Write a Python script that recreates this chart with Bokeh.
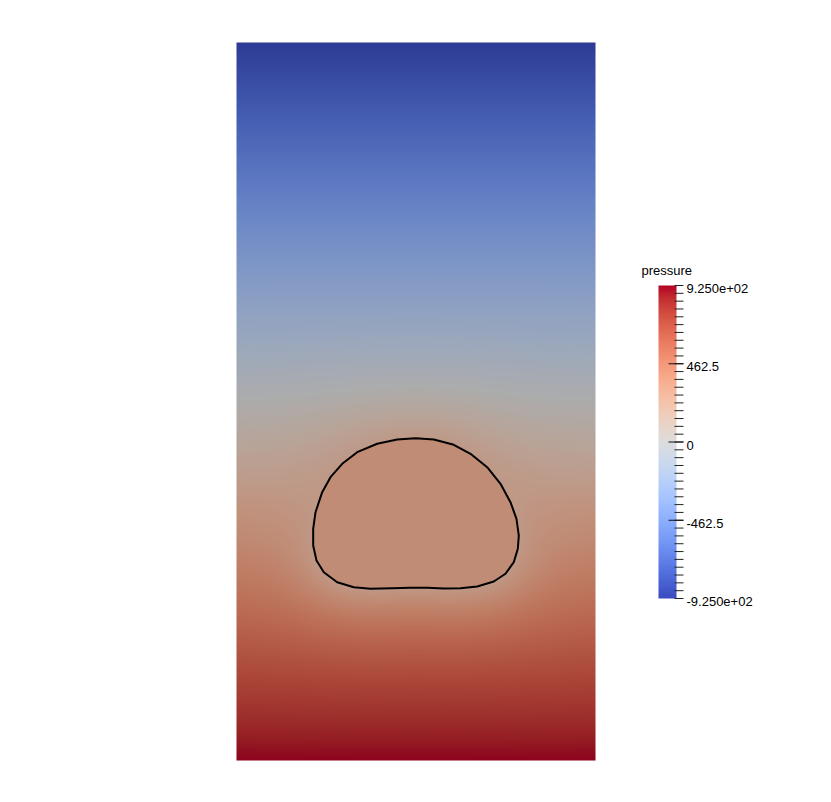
import numpy as np
from bokeh.plotting import figure
from bokeh.models import Range1d
from bokeh.core.properties import value
from bokeh.embed import file_html
from bokeh.resources import INLINE

# ---------------- data ----------------
# hydrostatic-like pressure profile along height (domain is 1 wide, 2 tall)
profile_z = [0.0, 0.25, 0.5, 0.75, 1.0, 1.25, 1.5, 1.75, 2.0]
profile_p = [925, 700, 470, 235, 0, -230, -465, -700, -925]

# pressure inside the bubble and just outside its interface
p_bubble = 330.0
p_edge = 230.0
halo_len = 0.075

# bubble interface contour (domain units)
bubble_x = [0.4986, 0.5496, 0.6053, 0.6518, 0.6983, 0.7354, 0.7632, 0.7799, 0.7864,
            0.7836, 0.7724, 0.7493, 0.7167, 0.6705, 0.6240, 0.5774, 0.5312, 0.4847,
            0.4337, 0.3733, 0.3267, 0.2805, 0.2432, 0.2228, 0.2136, 0.2136, 0.2201,
            0.2387, 0.2618, 0.2944, 0.3362, 0.3919, 0.4476]
bubble_y = [0.8978, 0.8942, 0.8794, 0.8543, 0.8170, 0.7708, 0.7195, 0.6733, 0.6267,
            0.5897, 0.5524, 0.5201, 0.4986, 0.4847, 0.4799, 0.4791, 0.4811, 0.4811,
            0.4799, 0.4783, 0.4827, 0.4967, 0.5245, 0.5571, 0.5989, 0.6454, 0.6916,
            0.7474, 0.7891, 0.8265, 0.8588, 0.8822, 0.8942]

# colour bar
p_min, p_max = -925.0, 925.0
major_ticks = [-925.0, -462.5, 0.0, 462.5, 925.0]
major_labels = ["-9.250e+02", "-462.5", "0", "462.5", "9.250e+02"]
long_ticks = [-462.5, 0.0, 462.5]
cbar_title = "pressure"

# Cool to Warm (Moreland) colour table
cmap_t = np.linspace(0, 1, 33)
cmap_rgb = np.array([
    [59, 76, 192], [68, 90, 204], [77, 104, 215], [87, 117, 225], [98, 130, 234],
    [108, 142, 241], [119, 154, 247], [130, 165, 251], [141, 176, 254], [152, 185, 255],
    [163, 194, 255], [174, 201, 253], [184, 208, 249], [194, 213, 244], [204, 217, 238],
    [213, 219, 230], [221, 221, 221], [229, 216, 209], [236, 211, 197], [241, 204, 185],
    [245, 196, 173], [247, 187, 160], [247, 177, 148], [247, 166, 135], [244, 154, 123],
    [241, 141, 111], [236, 127, 99], [229, 112, 88], [222, 96, 77], [213, 80, 66],
    [203, 62, 56], [192, 40, 47], [180, 4, 38]], dtype=float)
shade = 0.78


def to_rgba(p, factor=1.0):
    t = np.clip((p - p_min) / (p_max - p_min), 0, 1)
    out = np.empty(p.shape, dtype=np.uint32)
    v = out.view(dtype=np.uint8).reshape(p.shape + (4,))
    for c in range(3):
        v[..., c] = np.clip(np.interp(t, cmap_t, cmap_rgb[:, c]) * factor, 0, 255).astype(np.uint8)
    v[..., 3] = 255
    return out


# ---------------- field ----------------
NX, NY = 359, 718
xs = (np.arange(NX) + 0.5) / NX
ys = (np.arange(NY) + 0.5) / NX
X, Y = np.meshgrid(xs, ys)

bx = np.array(bubble_x)
by = np.array(bubble_y)
n = len(bx)
inside = np.zeros(X.shape, dtype=bool)
dmin = np.full(X.shape, np.inf)
j = n - 1
for i in range(n):
    xi, yi, xj, yj = bx[i], by[i], bx[j], by[j]
    cond = ((yi > Y) != (yj > Y)) & (X < (xj - xi) * (Y - yi) / (yj - yi + 1e-12) + xi)
    inside ^= cond
    dx, dy = xj - xi, yj - yi
    L2 = dx * dx + dy * dy
    t = np.clip(((X - xi) * dx + (Y - yi) * dy) / L2, 0, 1)
    d = np.hypot(X - (xi + t * dx), Y - (yi + t * dy))
    dmin = np.minimum(dmin, d)
    j = i

hydro = np.interp(Y, profile_z, profile_p)
field = np.where(inside, p_bubble, hydro + (p_edge - hydro) * np.exp(-dmin / halo_len))
img = to_rgba(field, shade)

# ---------------- figure ----------------
W, H = 815, 786
S = 359.0          # pixels per domain unit
X0, Y0 = 236, 760  # pixel position of domain origin

p = figure(width=W, height=H, output_backend="svg", toolbar_location=None,
           x_axis_type=None, y_axis_type=None, min_border=0,
           x_range=Range1d(-X0 / S, (W - X0) / S),
           y_range=Range1d(-(H - Y0) / S, Y0 / S))
p.outline_line_color = None
p.grid.visible = False
p.background_fill_color = "white"
p.border_fill_color = "white"

# colour bar range: pixel 285 -> p_max, 598 -> p_min
upp = (p_max - p_min) / (598 - 285)
p.extra_y_ranges = {"cb": Range1d(p_min - (H - 598) * upp, p_max + 285 * upp)}

p.image_rgba(image=[img], x=0, y=0, dw=1, dh=2)

p.line(list(bubble_x) + [bubble_x[0]], list(bubble_y) + [bubble_y[0]],
       line_color="black", line_width=2)


def fx(page_x):
    return (page_x - X0) / S


# colour bar image
cb_vals = np.linspace(p_min, p_max, 256).reshape(256, 1)
cb_img = to_rgba(cb_vals)
p.image_rgba(image=[cb_img], x=fx(658), y=p_min, dw=fx(676) - fx(658),
             dh=p_max - p_min, y_range_name="cb")

minor = np.linspace(p_min, p_max, 41)
p.segment(x0=[fx(674)] * len(minor), x1=[fx(683)] * len(minor), y0=minor, y1=minor,
          line_color="#222222", line_width=1, y_range_name="cb")
p.segment(x0=[fx(668)] * len(long_ticks), x1=[fx(683)] * len(long_ticks),
          y0=long_ticks, y1=long_ticks, line_color="#111111", line_width=1,
          y_range_name="cb")

p.text(x=[fx(686)] * len(major_ticks), y=major_ticks, text=major_labels,
       text_font=value("Liberation Sans"), text_font_size="13px", text_color="black",
       text_baseline="middle", text_align="left", y_offset=3, y_range_name="cb")

p.text(x=[fx(641)], y=[p_max + 15 * upp], text=[cbar_title],
       text_font=value("Liberation Sans"), text_font_size="13px", text_color="black",
       text_baseline="middle", text_align="left", y_range_name="cb")

open("out.html", "w").write(file_html(p, INLINE))
